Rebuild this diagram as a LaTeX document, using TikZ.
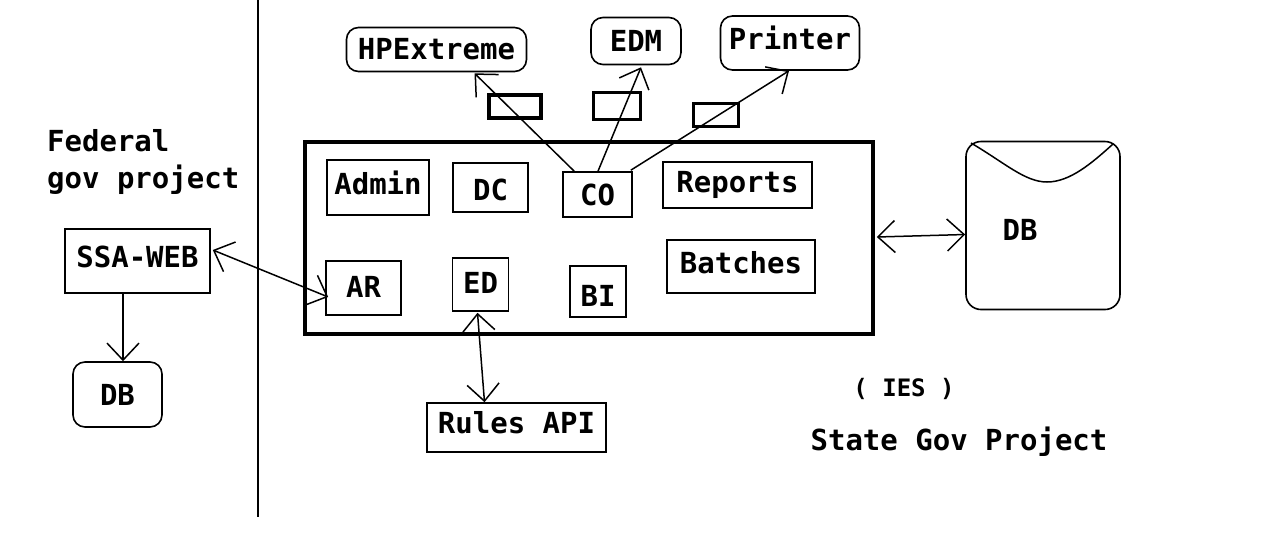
\documentclass[tikz,border=0pt]{standalone}
\usepackage{fontspec}
\newfontfamily\diagfont{DejaVu Sans Mono}
\usetikzlibrary{arrows.meta,calc}
\begin{document}
\begin{tikzpicture}[x=1pt,y=-1pt,
  every node/.style={font=\diagfont\bfseries\fontsize{29}{35}\selectfont, inner sep=0pt},
  smalltext/.style={font=\diagfont\bfseries\fontsize{24}{29}\selectfont},
  box/.style={draw, line width=1.6pt},
  rbox/.style={box, rounded corners=12pt},
  thickbox/.style={draw, line width=3.6pt},
  tipb/.tip={Straight Barb[length=17pt,width=32pt,line width=1.5pt]},
  conn/.style={line width=1.5pt, -tipb},
  biconn/.style={line width=1.5pt, tipb-tipb}]
\useasboundingbox[fill=white] (0,0) rectangle (1280,547);

% divider
\coordinate (divtop) at (258,0);
\coordinate (divbot) at (258,517);
\draw[line width=1.6pt] (divtop) -- (divbot);

% federal side
\node[anchor=west] (fedA) at (47,141) {Federal};
\node[anchor=west] (fedB) at (47,180) {gov project};
\node[box, minimum width=145, minimum height=64, text depth=9pt] (ssa) at (137.5,261) {SSA-WEB};
\node[rbox, minimum width=89, minimum height=65] (dbl) at (117.5,394.5) {DB};

% top external systems
\node[rbox, minimum width=180, minimum height=44] (hpx) at (436.5,49.5) {HPExtreme};
\node[rbox, minimum width=90, minimum height=47] (edm) at (636,41) {EDM};
\node[rbox, minimum width=139, minimum height=54, text depth=11pt] (prn) at (790,43) {Printer};

% small interface rectangles
\node[thickbox, minimum width=52, minimum height=23] (ifa) at (515,106.5) {};
\node[thickbox, minimum width=47, minimum height=27] (ifb) at (617,106) {};
\node[thickbox, minimum width=45, minimum height=23] (ifc) at (716,115) {};

% main system
\node[thickbox, minimum width=568, minimum height=192] (main) at (589,238) {};
\node[box, minimum width=102, minimum height=55, text depth=9pt] (admin) at (378,187.5) {Admin};
\node[box, minimum width=75, minimum height=49, text height=26pt] (dc) at (490.5,187.5) {DC};
\node[box, minimum width=69, minimum height=45] (co) at (597.5,194.5) {CO};
\node[box, minimum width=149, minimum height=46] (rep) at (737.5,185) {Reports};
\node[box, minimum width=75, minimum height=54, text depth=3pt] (ar) at (363.5,288) {AR};
\node[box, minimum width=56, minimum height=53, text depth=3pt] (ed) at (480.5,284.5) {ED};
\node[box, minimum width=56, minimum height=51, text height=29pt] (bi) at (598,291.5) {BI};
\node[box, minimum width=148, minimum height=53, text depth=9pt] (bat) at (741,266.5) {Batches};
\node[box, minimum width=179, minimum height=49, text depth=10pt] (rules) at (516.5,427.5) {Rules API};

% state DB
\node[draw, line width=1.6pt, rounded corners=15pt, minimum width=154, minimum height=168] (dbr) at (1043,225.5) {};
\node (dbrtext) at (1020,230) {DB};
\draw[line width=1.5pt] (971,143) .. controls (1005,163) and (1025,182) .. (1047,182)
  .. controls (1070,182) and (1092,163) .. (1113,144);

% labels
\node[smalltext] (ies) at (904,389) {( IES )};
\node (state) at (959,442) {State Gov Project};

% connectors
\draw[conn] ($(co.north west)+(12,0)$) -- ($(hpx.south)+(38,1)$);
\draw[conn] ($(co.north)+(0.5,0)$) -- ($(edm.south)+(5,2)$);
\draw[conn] ($(co.north east)+(-2,-1)$) -- ($(prn.south)+(-1,0)$);
\draw[biconn] ($(ssa.east)+(2,-11)$) -- ($(ar.west)+(3,9)$);
\draw[conn] ($(ssa.south)+(-14.5,0)$) -- ($(dbl.north)+(5.5,0)$);
\draw[biconn] ($(main.east)+(2,-1)$) -- ($(dbr.west)+(0,9)$);
\draw[biconn] ($(ed.south)+(-3,1)$) -- ($(rules.north)+(-32,0)$);
\end{tikzpicture}
\end{document}
